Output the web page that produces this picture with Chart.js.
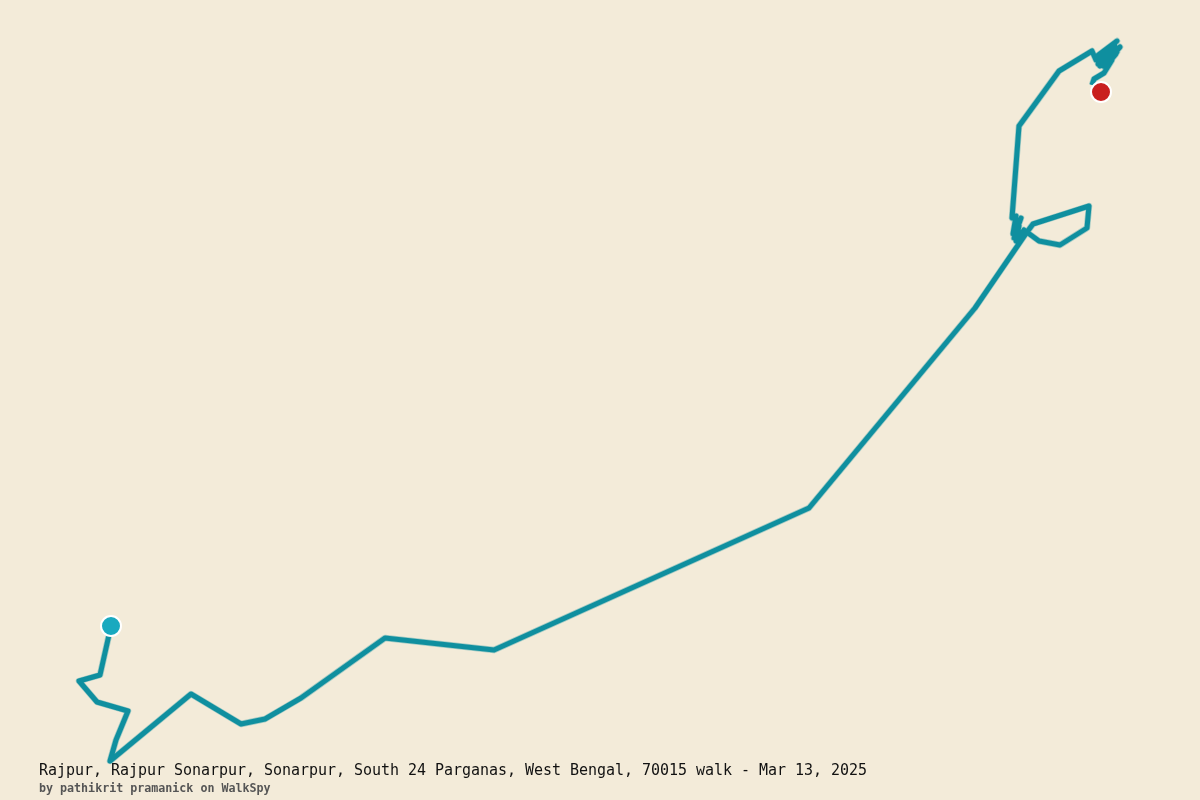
<!DOCTYPE html>
<html>
<head>
<meta charset="utf-8">
<title>WalkSpy</title>
<script src="https://cdn.jsdelivr.net/npm/chart.js@4"></script>
<style>
    html, body { margin: 0; padding: 0; background: #f3ebd9; }
    #wrap { position: relative; width: 1200px; height: 800px; overflow: hidden; }
    #title, #byline { position: absolute; left: 39px; font-family: "DejaVu Sans Mono", monospace; white-space: pre; }
    #title { top: 761px; font-size: 15px; letter-spacing: -0.03px; color: #111; }
    #byline { top: 781px; font-size: 11.67px; font-weight: bold; color: #555; }
</style>
</head>
<body>
<div id="wrap">
    <canvas id="map" width="1200" height="800"></canvas>
    <div id="title"></div>
    <div id="byline"></div>
</div>
<script>
const titleText = 'Rajpur, Rajpur Sonarpur, Sonarpur, South 24 Parganas, West Bengal, 70015 walk - Mar 13, 2025';
const bylineText = 'by pathikrit pramanick on WalkSpy';

// Track, on a 1200 x 800 map grid
const trackX = [111, 100, 79, 97, 128, 116, 110, 191, 241, 265, 301, 385, 494, 809, 975, 1027,
    1033, 1089, 1087, 1060, 1039, 1024, 1016, 1019, 1014, 1021, 1013, 1016, 1012, 1019, 1059, 1092, 1096,
    1117, 1097, 1115, 1100, 1120, 1103, 1117, 1098, 1112, 1096, 1110, 1102, 1116, 1106, 1112, 1104, 1094, 1092];
const trackY = [626, 675, 681, 702, 711, 740, 761, 694, 724, 719, 698, 638, 650, 508, 308, 232,
    224, 206, 228, 245, 241, 230, 241, 226, 238, 218, 234, 216, 218, 126, 71, 51, 60,
    41, 56, 46, 66, 47, 66, 52, 64, 50, 60, 58, 63, 54, 66, 60, 73, 79, 85];
const startX = [111];
const startY = [626];
const endX = [1101];
const endY = [92];

const toPoints = (xs, ys) => xs.map((x, i) => ({ x: x, y: ys[i] }));

document.getElementById('title').textContent = titleText;
document.getElementById('byline').textContent = bylineText;

new Chart(document.getElementById('map'), {
    type: 'scatter',
    data: {
        datasets: [
            {
                // marker layers first so they sit on top
                data: toPoints(startX, startY),
                pointRadius: 10,
                pointBackgroundColor: '#19a9bf',
                pointBorderColor: '#ffffff',
                pointBorderWidth: 2,
                order: 0
            },
            {
                data: toPoints(endX, endY),
                pointRadius: 10,
                pointBackgroundColor: '#c91f1f',
                pointBorderColor: '#ffffff',
                pointBorderWidth: 2,
                order: 0
            },
            {
                data: toPoints(trackX, trackY),
                showLine: true,
                pointRadius: 0,
                borderColor: '#0f8f9f',
                borderWidth: 5,
                borderJoinStyle: 'round',
                order: 1
            },
            {
                // faint halo along the track
                data: toPoints(trackX, trackY),
                showLine: true,
                pointRadius: 0,
                borderColor: 'rgba(15, 143, 159, 0.35)',
                borderWidth: 6.5,
                borderJoinStyle: 'round',
                order: 2
            }
        ]
    },
    options: {
        responsive: false,
        animation: false,
        layout: { padding: 0, autoPadding: false },
        plugins: { legend: { display: false }, title: { display: false }, tooltip: { enabled: false } },
        scales: {
            x: { type: 'linear', min: 0, max: 1200, display: false },
            y: { type: 'linear', min: 0, max: 800, reverse: true, display: false }
        }
    }
});
</script>
</body>
</html>
